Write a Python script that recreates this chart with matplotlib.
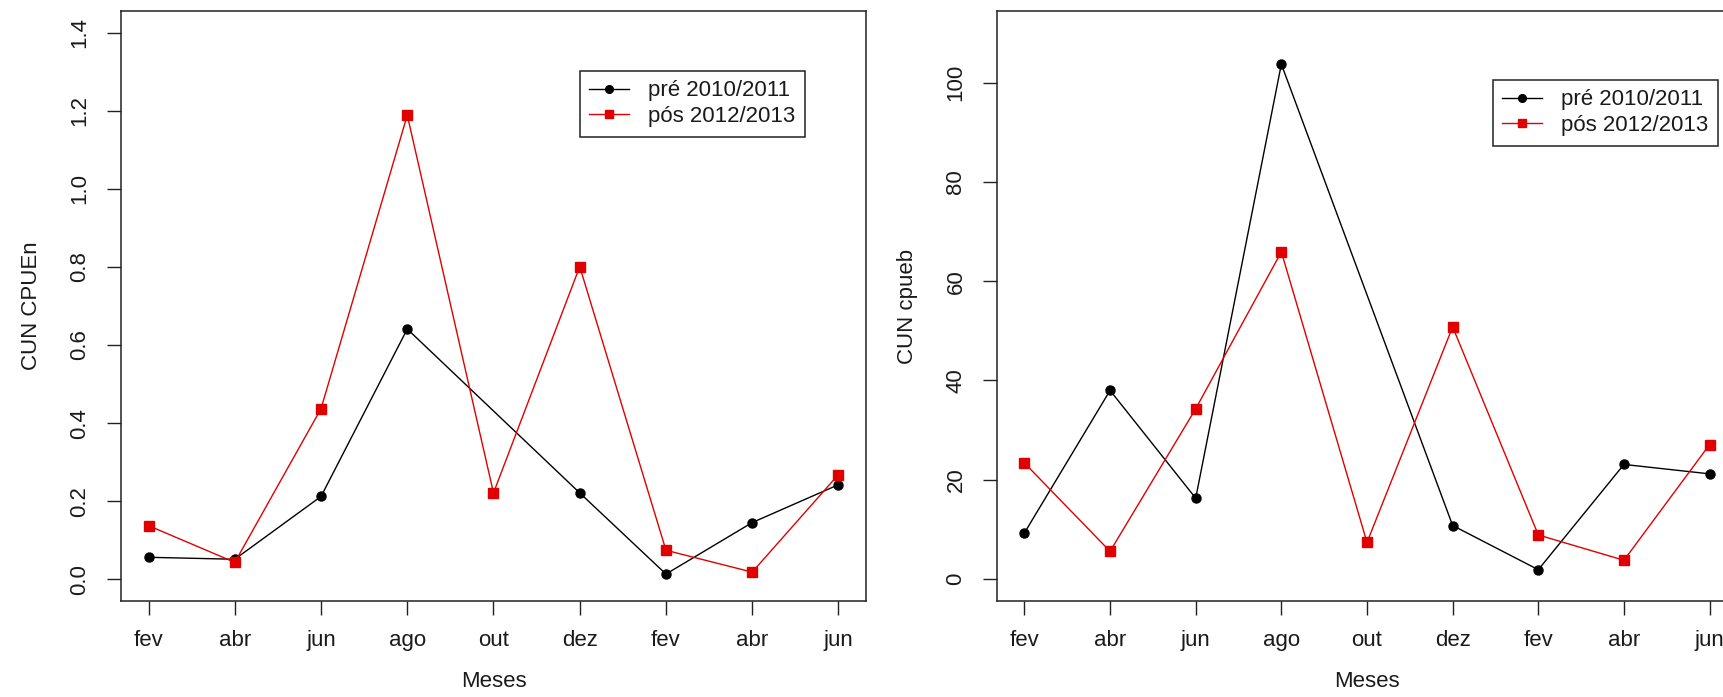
import numpy as np
import matplotlib
matplotlib.use('Agg')
import matplotlib.pyplot as plt

plt.rcParams['font.family'] = ['Liberation Sans', 'DejaVu Sans']

# month labels (two seasons, fev .. jun)
meses = ['fev', 'abr', 'jun', 'ago', 'out', 'dez', 'fev', 'abr', 'jun']

# CUN CPUEn
cpuen_pre = [0.056, 0.051, 0.212, 0.641, np.nan, 0.221, 0.013, 0.145, 0.242]
cpuen_pos = [0.137, 0.043, 0.437, 1.189, 0.221, 0.801, 0.074, 0.018, 0.268]

# CUN cpueb
cpueb_pre = [9.3, 38.0, 16.3, 103.7, np.nan, 10.8, 1.9, 23.1, 21.2]
cpueb_pos = [23.4, 5.6, 34.3, 65.9, 7.4, 50.8, 8.9, 3.8, 27.1]

labels = ['pré 2010/2011', 'pós 2012/2013']

W, H = 1723, 697
fig = plt.figure(figsize=(W / 100, H / 100), dpi=100)
txt = '#1a1a1a'
fs = 16


def px_axes(x0, x1, y0, y1):
    # pixel box (top-left origin) -> figure axes
    return fig.add_axes([x0 / W, 1 - y1 / H, (x1 - x0) / W, (y1 - y0) / H])


def r_plot(ax, pre, pos, ylim, yticks, yticklabels, ylabel, leg_xy):
    x = np.arange(1, len(meses) + 1)
    pre = np.asarray(pre, dtype=float)
    ok = ~np.isnan(pre)
    ax.plot(x[ok], pre[ok], '-o', color='black', lw=1, ms=6.5, label=labels[0])
    ax.plot(x, pos, '-s', color='#e00000', lw=1, ms=6.5, label=labels[1])

    pad = 0.04 * (len(meses) - 1)
    ax.set_xlim(1 - pad, len(meses) + pad)
    ext = 0.04 * (ylim[1] - ylim[0])
    ax.set_ylim(ylim[0] - ext, ylim[1] + ext)

    ax.set_xticks(x)
    ax.set_xticklabels(meses, fontsize=fs, color=txt)
    ax.set_yticks(yticks)
    ax.set_yticklabels(yticklabels, fontsize=fs, color=txt, rotation=90, va='center')
    ax.tick_params(length=10, width=1, color='#222222')
    ax.tick_params(axis='x', pad=11)
    ax.tick_params(axis='y', pad=12)
    for s in ax.spines.values():
        s.set_linewidth(1.1)
        s.set_color('#222222')
    ax.set_xlabel('Meses', fontsize=fs, color=txt, labelpad=14)
    ax.set_ylabel(ylabel, fontsize=fs, color=txt, labelpad=20)

    leg = ax.legend(loc='upper left', bbox_to_anchor=(leg_xy[0] / W, 1 - leg_xy[1] / H),
                    bbox_transform=fig.transFigure, borderaxespad=0,
                    fancybox=False, framealpha=1, edgecolor='#222222',
                    fontsize=fs, handlelength=1.8, handletextpad=0.85,
                    borderpad=0.42, labelspacing=0.22, markerscale=0.85)
    leg.get_frame().set_linewidth(1.1)
    for t in leg.get_texts():
        t.set_color(txt)


ax1 = px_axes(121, 866, 11, 601)
r_plot(ax1, cpuen_pre, cpuen_pos, (0, 1.4),
       np.arange(0, 1.41, 0.2), ['%.1f' % v for v in np.arange(0, 1.41, 0.2)],
       'CUN CPUEn', (580, 71))

ax2 = px_axes(997, 1737, 11, 601)
r_plot(ax2, cpueb_pre, cpueb_pos, (0, 110),
       np.arange(0, 101, 20), [str(v) for v in range(0, 101, 20)],
       'CUN cpueb', (1493, 80))

fig.savefig('out.png', dpi=100)
